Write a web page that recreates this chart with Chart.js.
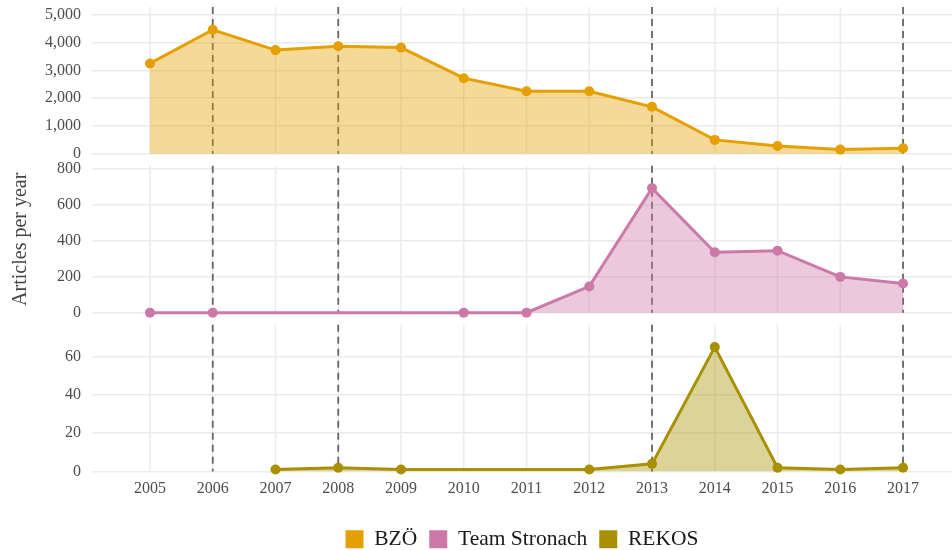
<!DOCTYPE html>
<html>
<head>
<meta charset="utf-8">
<script src="https://cdn.jsdelivr.net/npm/chart.js@4"></script>
<style>
html,body{margin:0;padding:0;background:#ffffff;}
#wrap{width:952px;height:550px;position:relative;}
</style>
</head>
<body>
<div id="wrap"><canvas id="c" width="952" height="550"></canvas></div>
<script>
// ---- data ----
const years = [2005, 2006, 2007, 2008, 2009, 2010, 2011, 2012, 2013, 2014, 2015, 2016, 2017];
const bzo = [3250, 4460, 3730, 3870, 3820, 2720, 2250, 2250, 1690, 500, 280, 150, 200];
const stronach = [0, 0, null, null, null, 0, 0, 146, 693, 336, 345, 199, 162];
const rekos = [null, null, 1, 2, 1, null, null, 1, 4, 65, 2, 1, 2];
const eventYears = [2006, 2008, 2013, 2017];
const bzoTicks = [0, 1000, 2000, 3000, 4000, 5000];
const stronachTicks = [0, 200, 400, 600, 800];
const rekosTicks = [0, 20, 40, 60];
const seriesNames = ['BZÖ', 'Team Stronach', 'REKOS'];
const seriesColors = ['#E69F00', '#CC79A7', '#A89000'];
const seriesFills = ['rgba(230,159,0,0.4)', 'rgba(204,121,167,0.4)', 'rgba(168,144,0,0.4)'];
const yTitle = 'Articles per year';

const FONT = "'Liberation Serif', 'DejaVu Serif', serif";
const panelIds = ['y1', 'y2', 'y3'];

function toPoints(vals) {
  return years.map((yr, i) => ({x: yr, y: vals[i]}));
}

function panelAxis(tickVals, max, weight, withTitle) {
  return {
    type: 'linear', position: 'left', stack: 'panels', stackWeight: 146, weight: weight,
    min: 0, max: max,
    afterBuildTicks: ax => { ax.ticks = tickVals.map(v => ({value: v})); },
    afterFit: ax => { ax.width = 92; ax.paddingTop = 0; ax.paddingBottom = 0; },
    grid: {color: '#EBEBEB', lineWidth: 1.5, drawTicks: false},
    border: {display: false},
    ticks: {padding: 11, color: '#4d4d4d', font: {family: FONT, size: 16}, autoSkip: false},
    title: withTitle ? {display: true, text: yTitle, color: '#444444', font: {family: FONT, size: 20}, padding: {top: 9, bottom: 0}} : {display: false}
  };
}
function gapAxis(weight) {
  return {
    type: 'linear', position: 'left', stack: 'panels', stackWeight: 12, weight: weight,
    min: 0, max: 1,
    afterFit: ax => { ax.width = 92; ax.paddingTop = 0; ax.paddingBottom = 0; },
    grid: {display: false}, border: {display: false}, ticks: {display: false}
  };
}

const panelGrid = {
  id: 'panelGrid',
  beforeDatasetsDraw(chart) {
    const ctx = chart.ctx;
    const xs = chart.scales.x;
    ctx.save();
    panelIds.forEach(id => {
      const ys = chart.scales[id];
      ctx.strokeStyle = '#EBEBEB';
      ctx.lineWidth = 1.5;
      ctx.setLineDash([]);
      years.forEach(yr => {
        const px = xs.getPixelForValue(yr);
        ctx.beginPath(); ctx.moveTo(px, ys.top); ctx.lineTo(px, ys.bottom); ctx.stroke();
      });
      ctx.strokeStyle = '#666666';
      ctx.lineWidth = 1.8;
      ctx.setLineDash([7, 5]);
      eventYears.forEach(yr => {
        const px = xs.getPixelForValue(yr);
        ctx.beginPath(); ctx.moveTo(px, ys.top); ctx.lineTo(px, ys.bottom); ctx.stroke();
      });
    });
    ctx.restore();
  }
};

const seriesData = [bzo, stronach, rekos];
const datasets = seriesNames.map((name, i) => ({
  label: name,
  data: toPoints(seriesData[i]),
  yAxisID: panelIds[i],
  borderColor: seriesColors[i],
  backgroundColor: seriesFills[i],
  pointBackgroundColor: seriesColors[i],
  pointBorderWidth: 0,
  pointRadius: 5,
  borderWidth: 3,
  tension: 0,
  spanGaps: true,
  fill: 'origin',
  clip: false
}));

new Chart(document.getElementById('c'), {
  type: 'line',
  data: {datasets: datasets},
  plugins: [panelGrid],
  options: {
    responsive: false,
    animation: false,
    devicePixelRatio: 1,
    layout: {autoPadding: false, padding: {top: 7, right: 0, left: 0, bottom: -10}},
    plugins: {
      tooltip: {enabled: false},
      legend: {
        position: 'bottom',
        fullSize: false,
        labels: {
          boxWidth: 18, boxHeight: 18, padding: 12,
          color: '#1a1a1a',
          font: {family: FONT, size: 21.5},
          generateLabels: chart => chart.data.datasets.map((ds, i) => ({
            text: ds.label, fillStyle: ds.borderColor, strokeStyle: ds.borderColor,
            lineWidth: 0, hidden: false, datasetIndex: i, fontColor: '#1a1a1a'
          }))
        }
      }
    },
    scales: {
      x: {
        type: 'linear', position: 'bottom',
        min: 2004.076, max: 2017.78,
        afterBuildTicks: ax => { ax.ticks = years.map(v => ({value: v})); },
        afterFit: ax => { ax.height = 45; ax.paddingLeft = 0; ax.paddingRight = 0; },
        grid: {display: false, drawTicks: false},
        border: {display: false},
        ticks: {padding: 8, color: '#4d4d4d', font: {family: FONT, size: 16}, maxRotation: 0, autoSkip: false,
          callback: v => String(v)}
      },
      y1: panelAxis(bzoTicks, 5280, 5, false),
      g1: gapAxis(4),
      y2: panelAxis(stronachTicks, 817, 3, true),
      g2: gapAxis(2),
      y3: panelAxis(rekosTicks, 76.7, 1, false)
    }
  }
});
</script>
</body>
</html>
